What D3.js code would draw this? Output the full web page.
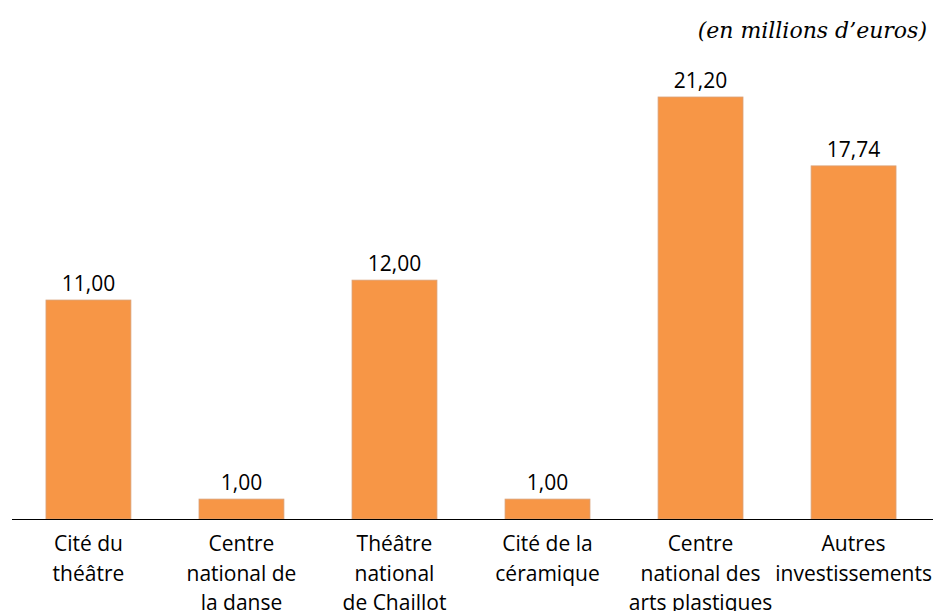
<!DOCTYPE html>
<html>
<head>
<meta charset="utf-8">
<script src="https://cdn.jsdelivr.net/npm/d3@7"></script>
<style>
  body { margin: 0; background: #fff; }
  svg text { font-family: "Open Sans", Lato, sans-serif; fill: #000; }
</style>
</head>
<body>
<script>
// Données du graphique
const categories = ["Cité du théâtre", "Centre national de la danse", "Théâtre national de Chaillot",
                    "Cité de la céramique", "Centre national des arts plastiques", "Autres investissements"];
const etiquettes = [["Cité du", "théâtre"], ["Centre", "national de", "la danse"], ["Théâtre", "national", "de Chaillot"],
                    ["Cité de la", "céramique"], ["Centre", "national des", "arts plastiques"], ["Autres", "investissements"]];
const valeurs = [11.00, 1.00, 12.00, 1.00, 21.20, 17.74];
const unite = "(en millions d\u2019euros)";

const width = 933, height = 611;
const baseY = 519;

const svg = d3.select("body").append("svg")
    .attr("width", width)
    .attr("height", height);

//Échelles
const x = d3.scaleBand().domain(categories).range([12, 930]).paddingInner(0.445).paddingOuter(0.222);
const y = d3.scaleLinear().domain([0, 21.2]).range([baseY, 97]);
const fmt = v => d3.format(".2f")(v).replace(".", ",");

//Barres
svg.selectAll(".barre")
    .data(valeurs)
    .enter()
    .append("rect")
    .attr("x", (d, i) => x(categories[i]))
    .attr("y", d => y(d))
    .attr("width", x.bandwidth())
    .attr("height", d => baseY - y(d))
    .attr("fill", "#F79646")
    .attr("stroke", "#D9A27A")
    .attr("stroke-width", 0.8);

//Valeurs au-dessus des barres
svg.selectAll(".valeur")
    .data(valeurs)
    .enter()
    .append("text")
    .attr("x", (d, i) => x(categories[i]) + x.bandwidth() / 2)
    .attr("y", d => y(d) - 9)
    .attr("text-anchor", "middle")
    .attr("font-size", 21)
    .text(d => fmt(d));

//Axe horizontal
svg.append("line")
    .attr("x1", 12).attr("x2", 933)
    .attr("y1", baseY + 0.5).attr("y2", baseY + 0.5)
    .attr("stroke", "#000")
    .attr("stroke-width", 1);

//Étiquettes des catégories
etiquettes.forEach(function(lignes, i) {
    const t = svg.append("text")
        .attr("text-anchor", "middle")
        .attr("font-size", 21);
    lignes.forEach(function(l, j) {
        t.append("tspan")
            .attr("x", x(categories[i]) + x.bandwidth() / 2)
            .attr("y", 551 + j * 29.5)
            .text(l);
    });
});

//Unité
svg.append("text")
    .attr("x", 927)
    .attr("y", 38)
    .attr("text-anchor", "end")
    .attr("font-size", 22)
    .attr("font-style", "italic")
    .style("font-family", "'DejaVu Serif', 'Liberation Serif', serif")
    .text(unite);
</script>
</body>
</html>
